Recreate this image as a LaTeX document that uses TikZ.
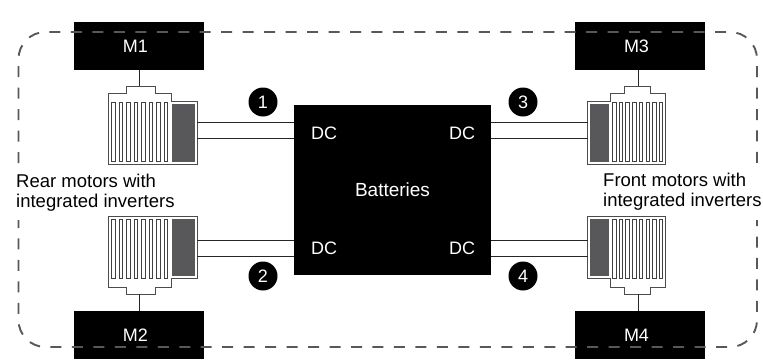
\documentclass[tikz,border=0pt]{standalone}
\usepackage{fontspec}
\setmainfont{Liberation Sans}
\definecolor{inkgray}{HTML}{58585A}
\tikzstyle{blackbox}=[fill=black, text=white, inner sep=0pt, font=\fontsize{18}{18}\selectfont]
\tikzstyle{dclabel}=[text=white, inner sep=0pt, font=\fontsize{18}{18}\selectfont]
\tikzstyle{badge}=[circle, fill=black, text=white, minimum size=29pt, inner sep=0pt, font=\fontsize{18}{18}\selectfont]
\tikzstyle{caption}=[align=left, inner sep=0pt, anchor=west, font=\fontsize{18.5}{20}\selectfont]
\tikzstyle{wire} = [draw, line width=0.8pt, black!85]
\tikzstyle{shell} = [draw=black!70, line width=0.9pt, fill=white]
\tikzstyle{fin} = [draw=black!75, line width=0.7pt]
\tikzstyle{border} = [draw=inkgray, line width=1.9pt, rounded corners=27pt, dash pattern=on 11pt off 10.47pt]
\begin{document}
\begin{tikzpicture}[x=1pt, y=-1pt]
	\useasboundingbox (0,0) rectangle (763,360);
	% black boxes
	\foreach \name/\pos/\ypos in {M1/139/46, M2/139/335, M3/640/46, M4/640/335}
		\node[blackbox, minimum width=130pt, minimum height=48pt] (\name) at (\pos,\ypos) {\name\kern7pt};
	\node[blackbox, minimum width=197pt, minimum height=170pt] (bat) at (392.5,190) {\fontsize{19}{19}\selectfont Batteries};
	\foreach \name/\pos/\ypos in {dcA/324/133, dcB/324/248, dcC/462/133, dcD/462/248}
		\node[dclabel] (\name) at (\pos,\ypos) {DC};
	% outer dashed outline, open where the captions sit
	\path[border] (18.5,163) -- (18.5,32) -- (757,32) -- (757,163);
	\path[border, dash phase=3pt] (18.5,220) -- (18.5,347) -- (757,347) -- (757,220);
	% rear motors
	\foreach \ybase/\sgn/\tgt/\side/\nb in {0/1/M1/south/a, 380/-1/M2/north/b} {
		\path[shell] (108.5,\ybase+\sgn*93) -- (126,\ybase+\sgn*93) -- (126,\ybase+\sgn*86) -- (155,\ybase+\sgn*86) -- (155,\ybase+\sgn*93) -- (171,\ybase+\sgn*93) -- (171,\ybase+\sgn*101.5) -- (197,\ybase+\sgn*101.5) -- (197,\ybase+\sgn*164) -- (108.5,\ybase+\sgn*164) -- cycle;
		\foreach \i in {0,...,7}
			\path[fin] (111.5+\i*7.55,\ybase+\sgn*102) rectangle ++(3.4,\sgn*59);
		\fill[inkgray] (172,\ybase+\sgn*104) rectangle (195,\ybase+\sgn*161.5);
		\coordinate (hub\nb) at (139,\ybase+\sgn*86);
		\path[wire] (\tgt.\side -| hub\nb) -- (hub\nb);
	}
	% front motors
	\foreach \ybase/\sgn/\tgt/\side/\nb in {0/1/M3/south/c, 380/-1/M4/north/d} {
		\path[shell] (665,\ybase+\sgn*93) -- (650.5,\ybase+\sgn*93) -- (650.5,\ybase+\sgn*86) -- (624,\ybase+\sgn*86) -- (624,\ybase+\sgn*93) -- (610.5,\ybase+\sgn*93) -- (610.5,\ybase+\sgn*101.5) -- (587.5,\ybase+\sgn*101.5) -- (587.5,\ybase+\sgn*164) -- (665,\ybase+\sgn*164) -- cycle;
		\foreach \i in {0,...,7}
			\path[fin] (612.5+\i*6.67,\ybase+\sgn*102) rectangle ++(3.4,\sgn*59);
		\fill[inkgray] (589.5,\ybase+\sgn*104) rectangle (609,\ybase+\sgn*161.5);
		\coordinate (hub\nb) at (638,\ybase+\sgn*86);
		\path[wire] (\tgt.\side -| hub\nb) -- (hub\nb);
	}
	% power lines
	\foreach \nb/\ya in {a/122.5, b/138.5, c/240, d/256} {
		\coordinate (rear\nb) at (197,\ya);
		\coordinate (front\nb) at (587.5,\ya);
		\path[wire] (rear\nb) -- (bat.west |- rear\nb);
		\path[wire] (bat.east |- front\nb) -- (front\nb);
	}
	\foreach \pos/\ypos/\name in {263/102/1, 263/276/2, 523/102/3, 523/276/4}
		\node[badge] (n\name) at (\pos,\ypos) {\name};
	\node[caption] (rear) at (16,193) {Rear motors with\\integrated inverters};
	\node[caption] (front) at (603,192) {Front motors with\\integrated inverters};
\end{tikzpicture}
\end{document}
